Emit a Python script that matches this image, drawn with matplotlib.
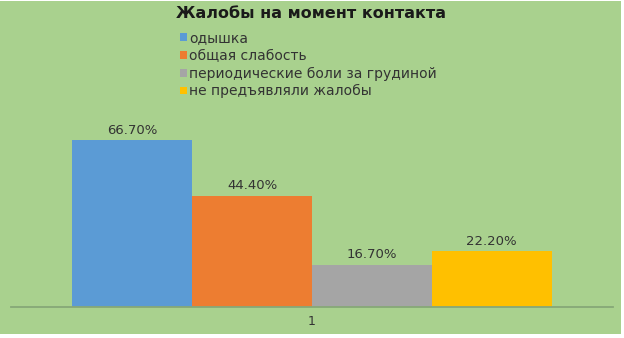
import matplotlib
matplotlib.use("Agg")
import matplotlib.pyplot as plt
from matplotlib.patches import Rectangle, Patch

title = "Жалобы на момент контакта"
categories = ["1"]
series_names = ["одышка", "общая слабость", "периодические боли за грудиной", "не предъявляли жалобы"]
values = [0.667, 0.444, 0.167, 0.222]
colors = ["#5B9BD5", "#ED7D31", "#A5A5A5", "#FFC000"]

W, H = 624, 338
fig = plt.figure(figsize=(W / 100, H / 100), dpi=100)
fig.patch.set_facecolor("white")
bg = "#A9D18E"
fig.add_artist(Rectangle((0, (H - 334) / H), 620.7 / W, (334 - 1.3) / H,
                         transform=fig.transFigure, facecolor=bg, edgecolor="none", zorder=0))

plt.rcParams['font.family'] = ['DejaVu Sans']
txt = "#333333"

ax_left, ax_right = 11 / W, 613 / W
ax_bottom = (H - 306.5) / H
ymax = 0.8
ax_h = ymax * 249.5 / H
ax = fig.add_axes([ax_left, ax_bottom, ax_right - ax_left, ax_h])
ax.set_facecolor("none")

n = len(values)
bw = (479 / 602) / n
for i, (name, v, c) in enumerate(zip(series_names, values, colors)):
    x = (i - (n - 1) / 2) * bw
    ax.bar(x, v, width=bw, color=c, label=name, zorder=2)
    ax.annotate(f"{v*100:.2f}%", (x, v), xytext=(0, 2.5), textcoords="offset points",
                ha="center", va="bottom", fontsize=9.5, color=txt)

ax.set_xlim(-0.5, 0.5)
ax.set_ylim(0, ymax)
ax.set_xticks([0])
ax.set_xticklabels(categories, fontsize=9, color=txt)
ax.tick_params(axis="x", length=0, pad=6)
ax.set_yticks([])
for s in ["top", "left", "right"]:
    ax.spines[s].set_visible(False)
ax.spines["bottom"].set_color("#86A877")
ax.spines["bottom"].set_linewidth(1.3)

fig.text(311.5 / W, 1 - 14 / H, title, ha="center", va="center",
         fontsize=11.5, fontweight="bold", color="#1a1a1a")

handles = [Patch(facecolor=c, edgecolor="none") for c in colors]
fig.legend(handles, series_names, loc="upper left",
           bbox_to_anchor=(180 / W, 1 - 31 / H), frameon=False,
           fontsize=10, labelcolor=txt, handlelength=0.5, handleheight=0.5,
           handletextpad=0.15, labelspacing=0.27, borderpad=0, borderaxespad=0)

fig.savefig("out.png", dpi=100, facecolor=fig.get_facecolor())
